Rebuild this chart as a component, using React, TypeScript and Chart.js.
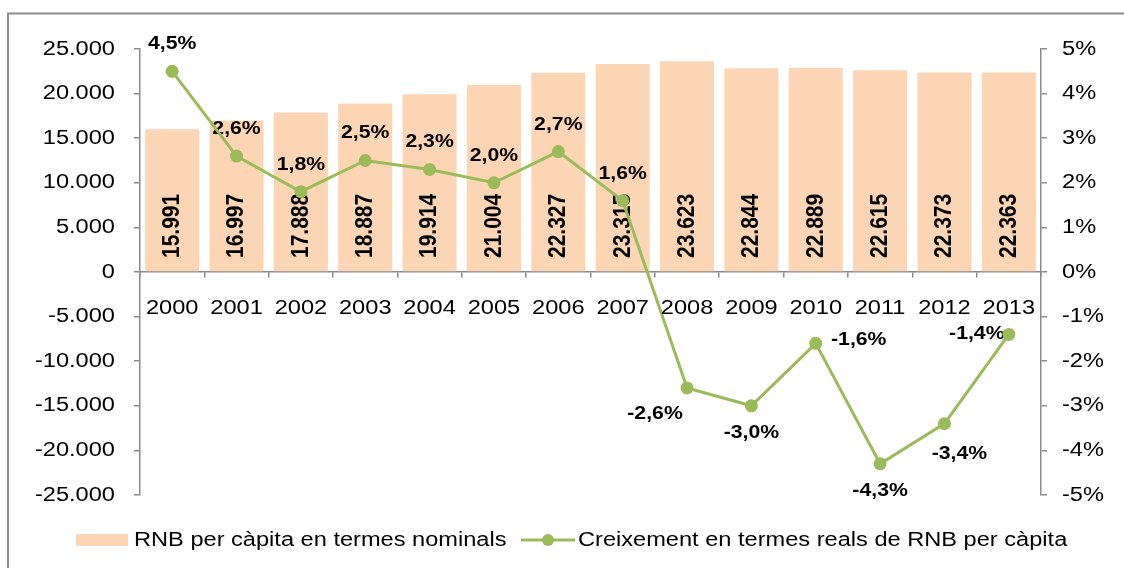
import React, { useEffect, useRef } from 'react';
import { Chart, registerables } from 'chart.js';

Chart.register(...registerables);

// ---------- data ----------
const years = ['2000', '2001', '2002', '2003', '2004', '2005', '2006', '2007', '2008', '2009', '2010', '2011', '2012', '2013'];
const rnbNominal = [15991, 16997, 17888, 18887, 19914, 21004, 22327, 23315, 23623, 22844, 22889, 22615, 22373, 22363];
const realGrowth = [4.5, 2.6, 1.8, 2.5, 2.3, 2.0, 2.7, 1.6, -2.6, -3.0, -1.6, -4.3, -3.4, -1.4];
const leftAxisRange = [-25000, 25000];
const leftAxisStep = 5000;
const rightAxisRange = [-5, 5];
const rightAxisStep = 1;
const seriesNames = ['RNB per càpita en termes nominals', 'Creixement en termes reals de RNB per càpita'];
// where each growth label sits relative to its point
const growthLabelPlacement = ['above', 'above', 'above', 'above', 'above', 'above', 'above', 'above', 'belowLeft', 'below', 'right', 'below', 'belowRight', 'left'];

// ---------- styles ----------
const BAR_COLOR = '#FCD5B5';
const LINE_COLOR = '#9BBB59';
const AXIS_COLOR = '#8A8A8A';
const STRETCH = 1.18;
const FAMILY = '"Liberation Sans", Arial, sans-serif';
const placementOffsets: Record<string, [number, number]> = {
  above: [0, -27],
  below: [0, 27],
  belowLeft: [-32, 26],
  belowRight: [15, 30],
  right: [43, -3],
  left: [-32, 0],
};

function fmtThousands(n: number): string {
  const s = Math.abs(n).toString().replace(/\B(?=(\d{3})+(?!\d))/g, '.');
  return (n < 0 ? '-' : '') + s;
}
function fmtPct(v: number): string {
  return v.toFixed(1).replace('.', ',') + '%';
}

function drawText(ctx: CanvasRenderingContext2D, text: string, x: number, y: number, font: string, align: CanvasTextAlign) {
  ctx.save();
  ctx.translate(x, y);
  ctx.scale(STRETCH, 1);
  ctx.font = font;
  ctx.fillStyle = '#000';
  ctx.textAlign = align;
  ctx.textBaseline = 'middle';
  ctx.fillText(text, 0, 0);
  ctx.restore();
}

const customPlugin = {
  id: 'customDecor',
  afterDatasetDraw(chart: any, args: any) {
    if (args.index !== 0) return;
    const ctx: CanvasRenderingContext2D = chart.ctx;
    const yScale = chart.scales.y;
    const base = yScale.getPixelForValue(0);
    // bar labels (rotated, inside base)
    const barMeta = chart.getDatasetMeta(0);
    barMeta.data.forEach((el: any, i: number) => {
      ctx.save();
      ctx.translate(el.x, base - 14);
      ctx.scale(STRETCH, 1);
      ctx.rotate(-Math.PI / 2);
      ctx.font = `bold 21px ${FAMILY}`;
      ctx.fillStyle = '#000';
      ctx.textAlign = 'left';
      ctx.textBaseline = 'middle';
      ctx.fillText(fmtThousands(rnbNominal[i]), 0, 0);
      ctx.restore();
    });
    // growth labels
    const lineMeta = chart.getDatasetMeta(1);
    lineMeta.data.forEach((el: any, i: number) => {
      const off = placementOffsets[growthLabelPlacement[i]] || [0, -27];
      drawText(ctx, fmtPct(realGrowth[i]), el.x + off[0], el.y + off[1], `bold 18px ${FAMILY}`, 'center');
    });
  },
  afterDraw(chart: any) {
    const ctx: CanvasRenderingContext2D = chart.ctx;
    const tickFont = `20px ${FAMILY}`;
    const y = chart.scales.y;
    const y1 = chart.scales.y1;
    const x = chart.scales.x;
    const area = chart.chartArea;
    y.ticks.forEach((t: any) => {
      const v = t.value;
      drawText(ctx, v === 0 ? '0' : fmtThousands(v), area.left - 25, y.getPixelForValue(v), tickFont, 'right');
    });
    y1.ticks.forEach((t: any) => {
      const v = t.value;
      drawText(ctx, `${Math.round(v)}%`, area.right + 21, y1.getPixelForValue(v), tickFont, 'left');
    });
    const zeroY = y.getPixelForValue(0);
    years.forEach((lab, i) => {
      drawText(ctx, lab, x.getPixelForValue(i), zeroY + 36, tickFont, 'center');
    });
    // legend
    const ly = 540;
    ctx.save();
    ctx.fillStyle = BAR_COLOR;
    ctx.fillRect(76, ly - 6, 52, 12);
    ctx.restore();
    drawText(ctx, seriesNames[0], 134, ly, tickFont, 'left');
    ctx.save();
    ctx.strokeStyle = LINE_COLOR;
    ctx.lineWidth = 3;
    ctx.beginPath();
    ctx.moveTo(521, ly);
    ctx.lineTo(575, ly);
    ctx.stroke();
    ctx.fillStyle = LINE_COLOR;
    ctx.beginPath();
    ctx.arc(548, ly, 6, 0, Math.PI * 2);
    ctx.fill();
    ctx.restore();
    drawText(ctx, seriesNames[1], 578, ly, tickFont, 'left');
    // outer border
    ctx.save();
    ctx.strokeStyle = '#8C8C8C';
    ctx.lineWidth = 2;
    ctx.strokeRect(8, 13.5, 1300, 700);
    ctx.restore();
  },
};

export default function App() {
  const canvasRef = useRef<HTMLCanvasElement | null>(null);

  useEffect(() => {
    if (!canvasRef.current) return;
    const chart = new Chart(canvasRef.current, {
      type: 'bar',
      data: {
        labels: years,
        datasets: [
          {
            type: 'bar',
            label: seriesNames[0],
            data: rnbNominal,
            yAxisID: 'y',
            backgroundColor: BAR_COLOR,
            borderWidth: 0,
            barPercentage: 0.84,
            categoryPercentage: 1,
            order: 2,
          } as any,
          {
            type: 'line',
            label: seriesNames[1],
            data: realGrowth,
            yAxisID: 'y1',
            borderColor: LINE_COLOR,
            backgroundColor: LINE_COLOR,
            borderWidth: 3,
            tension: 0,
            pointRadius: 6.5,
            pointBorderWidth: 0,
            pointBackgroundColor: LINE_COLOR,
            pointBorderColor: LINE_COLOR,
            fill: false,
            order: 1,
          } as any,
        ],
      },
      options: {
        responsive: false,
        animation: false,
        events: [],
        layout: { padding: { top: 49, bottom: 73, left: 0, right: 0 } },
        plugins: {
          legend: { display: false },
          tooltip: { enabled: false },
        },
        scales: {
          x: {
            type: 'category',
            position: { y: 0 } as any,
            offset: true,
            grid: { display: true, drawOnChartArea: false, drawTicks: true, tickLength: 5, color: AXIS_COLOR, lineWidth: 1.5, offset: true },
            border: { display: true, color: AXIS_COLOR, width: 1.5 },
            ticks: { display: false },
            afterFit: (s: any) => { s.height = 0; },
          },
          y: {
            position: 'left',
            min: leftAxisRange[0],
            max: leftAxisRange[1],
            ticks: { stepSize: leftAxisStep, display: false },
            grid: { drawOnChartArea: false, drawTicks: true, tickLength: 6, color: AXIS_COLOR, lineWidth: 1.5 },
            border: { display: true, color: AXIS_COLOR, width: 1.5 },
            afterFit: (s: any) => { s.width = 140; },
          },
          y1: {
            position: 'right',
            min: rightAxisRange[0],
            max: rightAxisRange[1],
            ticks: { stepSize: rightAxisStep, display: false },
            grid: { drawOnChartArea: false, drawTicks: true, tickLength: 6, color: AXIS_COLOR, lineWidth: 1.5 },
            border: { display: true, color: AXIS_COLOR, width: 1.5 },
            afterFit: (s: any) => { s.width = 83; },
          },
        },
      } as any,
      plugins: [customPlugin],
    });
    return () => chart.destroy();
  }, []);

  return (
    <div style={{ position: 'fixed', left: 0, top: 0, width: 1124, height: 568, background: '#fff', overflow: 'hidden' }}>
      <canvas ref={canvasRef} width={1124} height={568} style={{ display: 'block' }} />
    </div>
  );
}
